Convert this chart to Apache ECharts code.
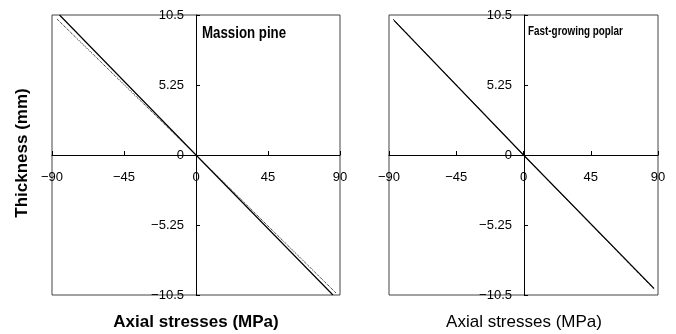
<!DOCTYPE html>
<html><head><meta charset="utf-8">
<script src="https://cdn.jsdelivr.net/npm/echarts@6/dist/echarts.min.js"></script>
<style>html,body{margin:0;padding:0;background:#fff}#c{width:676px;height:334px}</style>
</head><body><div id="c"></div>
<script>
// Data: [axial stress MPa, thickness mm]
const pineSolid = [[-85.3, 10.5], [0, 0], [85.6, -10.5]];
const pineDotted = [[-86.9, 10.2], [0, 0], [87.5, -10.35]];
const poplarSolid = [[-86.7, 10.1], [0, 0], [87.3, -10.0]];
const poplarDotted = [[-87.3, 10.2], [0, 0], [87.6, -10.1]];
const xTicks = [-90, -45, 0, 45, 90];
const yTicks = [-10.5, -5.25, 0, 5.25, 10.5];
const panelNames = ['Massion pine', 'Fast-growing poplar'];
const xTitle = 'Axial stresses (MPa)';
const yTitle = 'Thickness (mm)';

const chart = echarts.init(document.getElementById('c'));
const font = 'Liberation Sans, Arial, sans-serif';
const fmt = v => (v < 0 ? '\u2212' + Math.abs(v) : String(v));
function xAxis(i) {
  return {
    gridIndex: i, type: 'value', min: xTicks[0], max: xTicks[xTicks.length - 1], interval: 45,
    position: 'bottom', offset: -140,
    axisLine: { onZero: false, lineStyle: { color: '#000', width: 1 } },
    axisTick: { inside: true, length: 4, lineStyle: { color: '#000' } },
    axisLabel: { margin: 16, color: '#000', fontSize: 13, fontFamily: font, formatter: fmt,
      showMinLabel: true, showMaxLabel: true, hideOverlap: false },
    splitLine: { show: false }
  };
}
function yAxis(i, off) {
  return {
    gridIndex: i, type: 'value', min: yTicks[0], max: yTicks[yTicks.length - 1], interval: 5.25,
    position: 'left', offset: off,
    axisLine: { onZero: false, lineStyle: { color: '#000', width: 1 } },
    axisTick: { inside: true, length: 4, lineStyle: { color: '#000' } },
    axisLabel: { margin: 12, color: '#000', fontSize: 13, fontFamily: font, formatter: fmt,
      showMinLabel: true, showMaxLabel: true, hideOverlap: false },
    splitLine: { show: false }
  };
}
function line(data, i, dotted) {
  return {
    type: 'line', xAxisIndex: i, yAxisIndex: i, data: data, symbol: 'none', silent: true,
    lineStyle: { color: '#000', width: dotted ? 1 : 1.2, type: dotted ? 'dotted' : 'solid' }
  };
}
chart.setOption({
  animation: false,
  grid: [
    { left: 52, top: 15, width: 288, height: 280, show: true, borderColor: '#444', borderWidth: 1 },
    { left: 389, top: 15, width: 269, height: 280, show: true, borderColor: '#444', borderWidth: 1 }
  ],
  xAxis: [xAxis(0), xAxis(1)],
  yAxis: [yAxis(0, -144), yAxis(1, -135)],
  series: [
    line(pineDotted, 0, true), line(pineSolid, 0, false),
    line(poplarDotted, 1, true), line(poplarSolid, 1, false)
  ],
  graphic: [
    { type: 'text', x: 202, y: 34, scaleX: 0.83, style: { text: panelNames[0], fontSize: 16, fontWeight: 'bold',
      fontFamily: font, fill: '#000', verticalAlign: 'middle' } },
    { type: 'text', x: 528, y: 31, scaleX: 0.76, style: { text: panelNames[1], fontSize: 13, fontWeight: 'bold',
      fontFamily: font, fill: '#000', verticalAlign: 'middle' } },
    { type: 'text', x: 196, y: 322, style: { text: xTitle, fontSize: 17, fontWeight: 'bold',
      fontFamily: font, fill: '#000', align: 'center', verticalAlign: 'middle' } },
    { type: 'text', x: 524, y: 322, style: { text: xTitle, fontSize: 17, fontWeight: 'normal',
      fontFamily: font, fill: '#000', align: 'center', verticalAlign: 'middle' } },
    { type: 'text', x: 22, y: 153, rotation: Math.PI / 2, style: { text: yTitle, fontSize: 17, fontWeight: 'bold',
      fontFamily: font, fill: '#000', align: 'center', verticalAlign: 'middle' } }
  ]
});
</script></body></html>
